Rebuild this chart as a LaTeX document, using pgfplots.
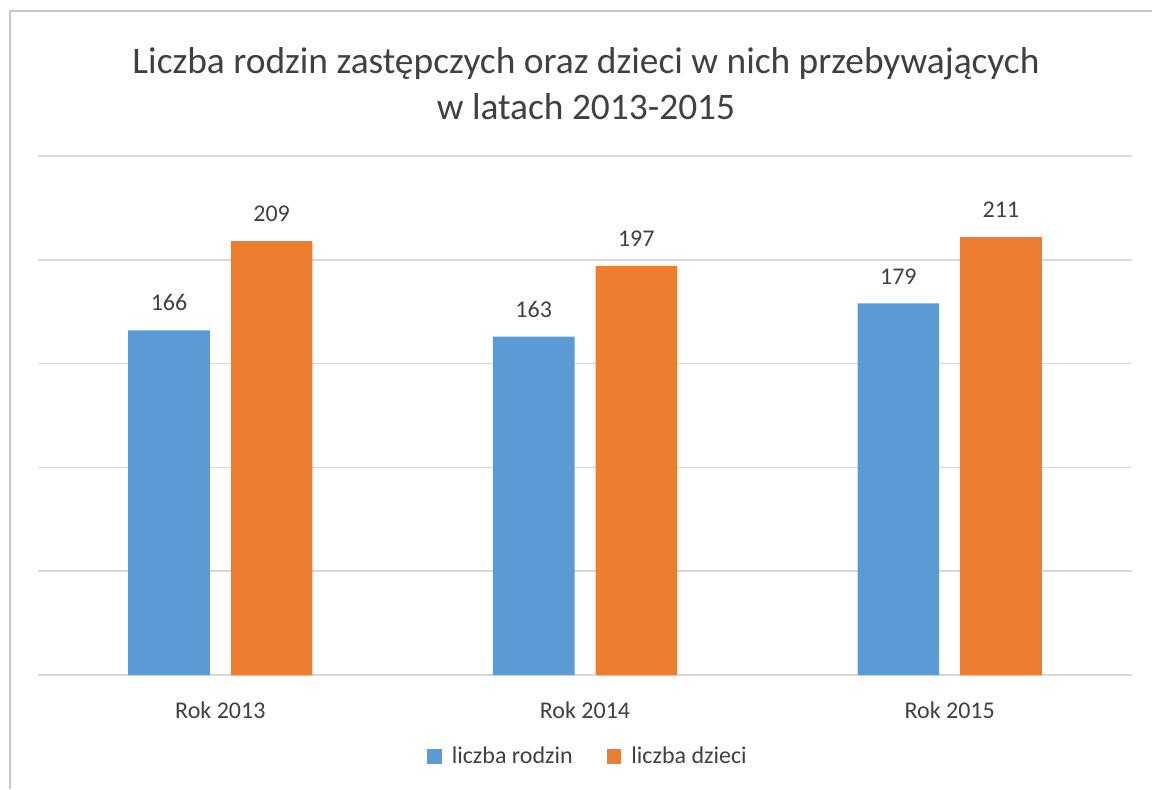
\documentclass[border=0pt]{standalone}
\usepackage{pgfplots}
\pgfplotsset{compat=1.18}
\usepackage{fontspec}
\setmainfont{Carlito}
\definecolor{cblue}{HTML}{5B9BD5}
\definecolor{corange}{HTML}{ED7D31}
\definecolor{gridc}{HTML}{D9D9D9}
\definecolor{borderc}{HTML}{C8C8C8}
\definecolor{txt}{HTML}{404040}
\begin{document}
\begin{tikzpicture}[x=1pt,y=1pt]
\useasboundingbox (0,0) rectangle (576,394.5);
\draw[line width=0.75pt, color=borderc] (5,0) -- (5,389) -- (576,389);
\node[anchor=base, font=\fontsize{18.7}{22}\selectfont, text=txt] at (293,357.5) {Liczba rodzin zastępczych oraz dzieci w nich przebywających};
\node[anchor=base, font=\fontsize{18.7}{22}\selectfont, text=txt] at (293,334.5) {w latach 2013-2015};
\begin{axis}[
  at={(19pt,57pt)}, anchor=south west,
  scale only axis, width=547pt, height=259.5pt,
  ymin=0, ymax=250, xmin=-0.5, xmax=2.5,
  ybar=10.5pt, bar width=40.8pt,
  xtick={0,1,2}, xticklabels={Rok 2013, Rok 2014, Rok 2015},
  ytick={0,50,...,250}, yticklabels={},
  ymajorgrids, major grid style={color=gridc, line width=0.75pt},
  axis line style={draw=none},
  major tick length=0pt,
  /pgf/number format/assume math mode=true,
  xticklabel style={anchor=base, yshift=-21.85pt, font=\fontsize{12}{14}\selectfont, text=txt},
  nodes near coords,
  nodes near coords style={font=\fontsize{12}{14}\selectfont, text=txt, inner sep=0pt, yshift=9.5pt},
  clip=false,
  legend columns=2,
  legend style={at={(0.5,-0.158)}, anchor=center, xshift=2pt, draw=none, fill=none,
    font=\fontsize{12}{14}\selectfont, text=txt,
    /tikz/every odd column/.append style={column sep=3pt},
    /tikz/every even column/.append style={column sep=15pt}},
  legend image code/.code={\fill[#1] (0pt,-3.4pt) rectangle (7.3pt,3.9pt);},
]
\addplot[fill=cblue, draw=none] coordinates {(0,166) (1,163) (2,179)};
\addplot[fill=corange, draw=none] coordinates {(0,209) (1,197) (2,211)};
\legend{liczba rodzin, liczba dzieci}
\end{axis}
\end{tikzpicture}
\end{document}
